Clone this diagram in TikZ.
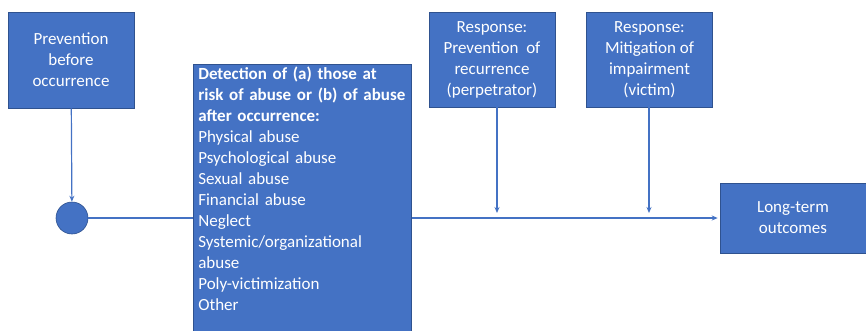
\documentclass[tikz,border=0pt]{standalone}
\usepackage{fontspec}
\setmainfont{Carlito}
\usetikzlibrary{arrows.meta}
\definecolor{boxblue}{HTML}{4472C4}
\definecolor{edgeblue}{HTML}{2F528F}
\tikzset{
  box/.style={fill=boxblue, draw=edgeblue, line width=.6pt, text=white, align=center, inner sep=0pt},
  link/.style={draw=boxblue, line width=1.2pt},
  arr/.style={link, -{Stealth[length=6pt,width=5pt]}},
}

\begin{document}
\begin{tikzpicture}[x=1pt,y=-1pt,font=\fontsize{17}{21}\selectfont]
\useasboundingbox (0,0) rectangle (866,330);
% boxes
\node[box, minimum width=126pt, minimum height=96pt] (prev) at (71,60) {Prevention\\before\\occurrence};
\node[box, circle, minimum size=32pt] (dot) at (72,218) {};
\node[box, anchor=north west, minimum height=268pt, text width=208pt, inner xsep=5pt, align=left] (det) at (193,64)
  {\textbf{Detection of (a) those at}\\\textbf{risk of abuse or (b) of abuse}\\\textbf{after occurrence:}\\
   Physical abuse\\Psychological abuse\\Sexual abuse\\Financial abuse\\Neglect\\
   Systemic/organizational\\abuse\\Poly-victimization\\Other\\[-2pt]\mbox{}};
\node[box, minimum width=126pt, minimum height=95pt] (resp1) at (492,59.5) {Response:\\Prevention\ \ of\\recurrence\\(perpetrator)};
\node[box, minimum width=126pt, minimum height=95pt] (resp2) at (649.5,59.5) {Response:\\Mitigation of\\impairment\\(victim)};
\node[box, minimum width=146pt, minimum height=70pt] (lto) at (793,218) {Long-term\\outcomes};
\coordinate (hit1) at (497,213);
\coordinate (hit2) at (649,213);
% connectors
\draw[arr] (prev) -- (dot);
\draw[link] (dot) -- (dot -| det.west);
\draw[arr, shorten >=2pt] (det.east |- dot) -- (lto.west);
\draw[arr] (resp1.south -| hit1) -- (hit1);
\draw[arr] (resp2.south -| hit2) -- (hit2);
\end{tikzpicture}
\end{document}
